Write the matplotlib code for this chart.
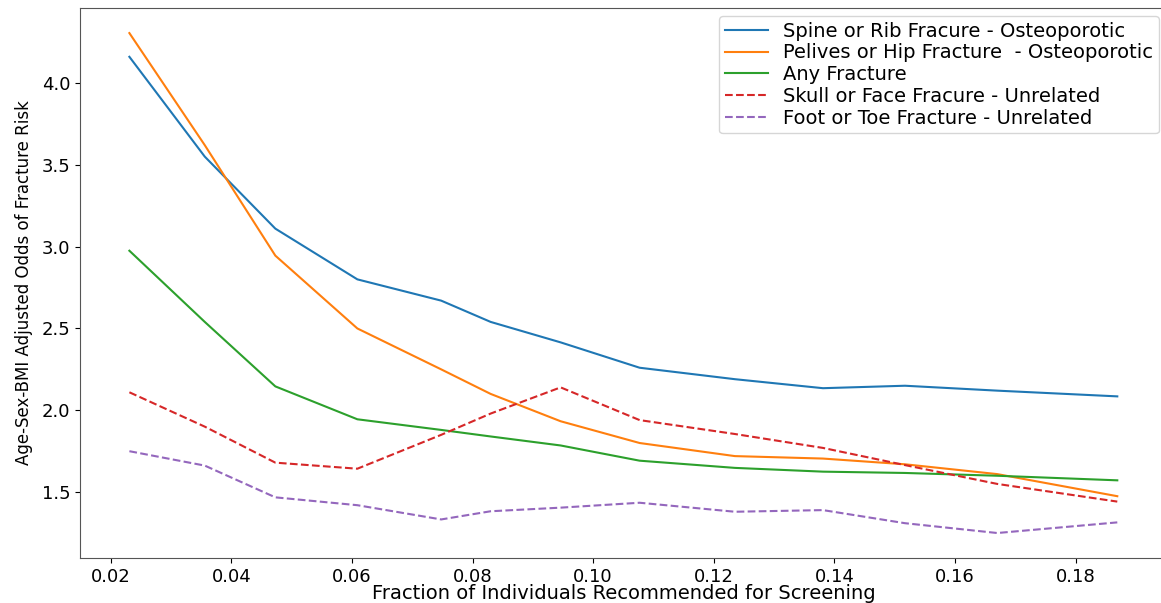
import numpy as np
import matplotlib.pyplot as plt

# fraction of individuals recommended for screening
frac = [0.0231, 0.0356, 0.0473, 0.0609, 0.0748, 0.0830, 0.0946,
        0.1077, 0.1235, 0.1381, 0.1517, 0.1670, 0.1869]

spine_rib = [4.16, 3.55, 3.11, 2.80, 2.67, 2.54, 2.415,
             2.26, 2.19, 2.135, 2.15, 2.12, 2.085]
pelvis_hip = [4.305, 3.62, 2.945, 2.50, 2.25, 2.10, 1.933,
              1.80, 1.72, 1.705, 1.67, 1.61, 1.475]
any_frac = [2.975, 2.54, 2.146, 1.945, 1.88, 1.84, 1.785,
            1.692, 1.648, 1.625, 1.617, 1.60, 1.572]
skull_face = [2.11, 1.90, 1.68, 1.643, 1.85, 1.98, 2.14,
              1.94, 1.855, 1.77, 1.665, 1.55, 1.442]
foot_toe = [1.75, 1.662, 1.468, 1.42, 1.333, 1.383, 1.405,
            1.435, 1.38, 1.39, 1.31, 1.25, 1.315]

labels = ['Spine or Rib Fracure - Osteoporotic',
          'Pelives or Hip Fracture  - Osteoporotic',
          'Any Fracture',
          'Skull or Face Fracure - Unrelated',
          'Foot or Toe Fracture - Unrelated']

fig = plt.figure(figsize=(11.61, 6.03), dpi=100)
ax = fig.add_axes([0.0689, 0.0746, 0.936, 0.912])

ax.plot(frac, spine_rib, color='tab:blue', label=labels[0])
ax.plot(frac, pelvis_hip, color='tab:orange', label=labels[1])
ax.plot(frac, any_frac, color='tab:green', label=labels[2])
ax.plot(frac, skull_face, '--', color='tab:red', label=labels[3])
ax.plot(frac, foot_toe, '--', color='tab:purple', label=labels[4])

ax.set_xticks(np.arange(0.02, 0.181, 0.02))
ax.set_yticks([1.5, 2.0, 2.5, 3.0, 3.5, 4.0])
ax.tick_params(labelsize=13)
for s in ax.spines.values():
    s.set_color('#555555')
ax.spines['right'].set_visible(False)

ax.set_xlabel('Fraction of Individuals Recommended for Screening', fontsize=14, labelpad=-1)
ax.set_ylabel('Age-Sex-BMI Adjusted Odds of Fracture Risk', fontsize=12, labelpad=6)
ax.legend(loc='upper right', fontsize=14, handlelength=2.2, labelspacing=0.14,
          borderaxespad=0.4, borderpad=0.3)

fig.savefig('out.png', dpi=100)
